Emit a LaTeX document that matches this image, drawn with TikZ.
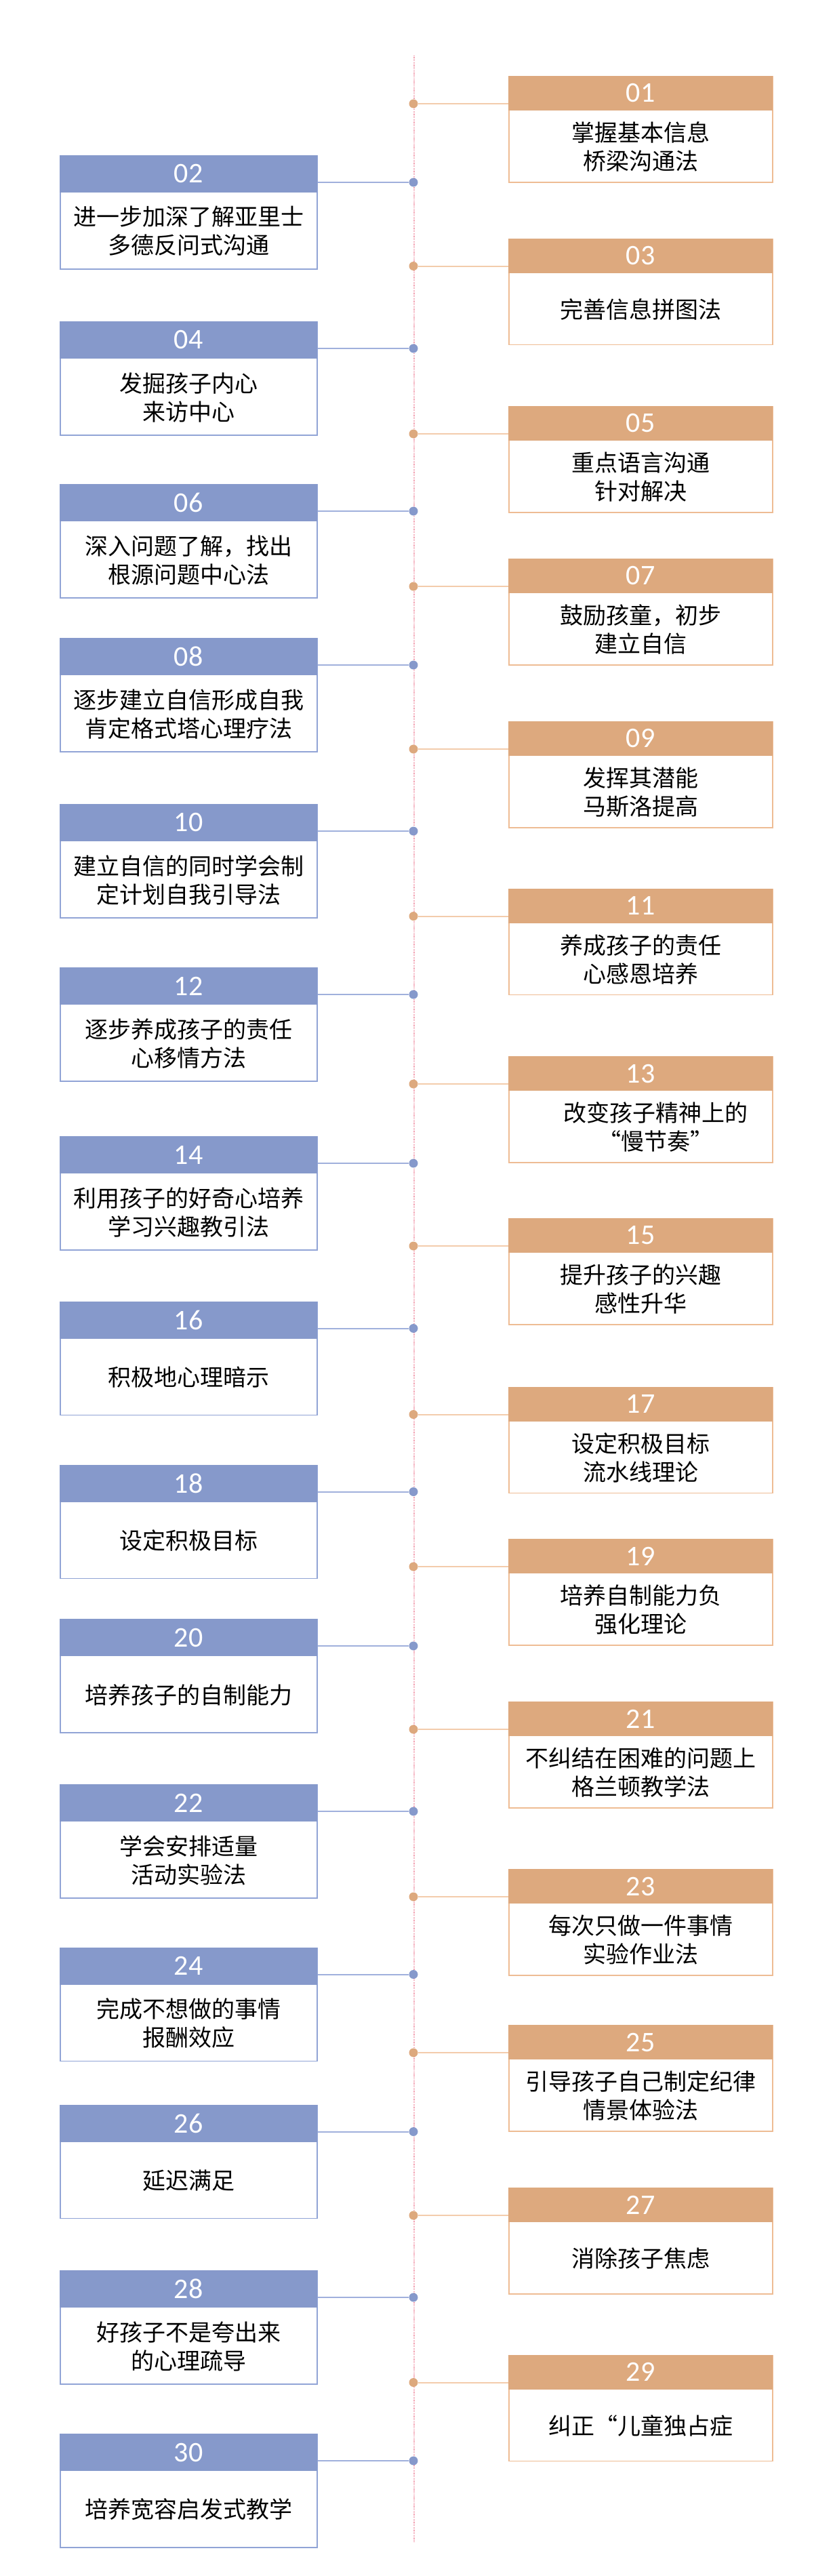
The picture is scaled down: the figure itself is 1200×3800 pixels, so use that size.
\documentclass[tikz,border=0pt]{standalone}
\usepackage{fontspec}
\setmainfont{Carlito}
\newfontfamily\cjkfont{Noto Sans CJK SC}
\usetikzlibrary{positioning}
\definecolor{orangehead}{RGB}{221,169,126}
\definecolor{orangeedge}{RGB}{238,188,148}
\definecolor{orangelink}{RGB}{243,204,172}
\definecolor{bluehead}{RGB}{134,153,203}
\definecolor{blueedge}{RGB}{145,164,214}
\definecolor{bluelink}{RGB}{160,176,220}
\definecolor{pinkline}{RGB}{242,158,175}
\tikzstyle{rbox}=[draw=orangeedge,fill=white,line width=1.6pt,minimum width=389pt,minimum height=156pt,inner sep=0pt,anchor=north west]
\tikzstyle{lbox}=[draw=blueedge,fill=white,line width=1.6pt,minimum width=379pt,minimum height=167pt,inner sep=0pt,anchor=north west]
\tikzstyle{rhead}=[draw=orangehead,fill=orangehead,line width=1pt,minimum width=389pt,minimum height=50pt,inner sep=0pt,anchor=north west,text=white,font=\fontsize{42pt}{42pt}\selectfont]
\tikzstyle{lhead}=[draw=bluehead,fill=bluehead,line width=1pt,minimum width=379pt,minimum height=54pt,inner sep=0pt,anchor=north west,text=white,font=\fontsize{42pt}{42pt}\selectfont]
\tikzstyle{btext}=[align=center,inner sep=0pt,font=\cjkfont\fontsize{34pt}{42pt}\selectfont]
\tikzstyle{rdot}=[circle,fill=orangehead,minimum size=13pt,inner sep=0pt]
\tikzstyle{ldot}=[circle,fill=bluehead,minimum size=13pt,inner sep=0pt]
\tikzstyle{rlink}=[draw=orangelink,line width=2pt]
\tikzstyle{llink}=[draw=bluelink,line width=2pt]
\tikzstyle{midline}=[draw=pinkline,line width=1.2pt,dash pattern=on 1.2pt off 1.2pt]

\begin{document}
\begin{tikzpicture}[x=1pt,y=-1pt]
    \useasboundingbox[fill=white] (0,0) rectangle (1200,3800);

    % time line
    \coordinate (linetop) at (611,82);
    \coordinate (linebottom) at (611,3750);
    \path[midline] (linetop) -- (linebottom);

    % right side, orange
    \foreach \n/\y/\dx/\txt in {01/112/0/{掌握基本信息\\桥梁沟通法}, 03/351.5/0/{完善信息拼图法},
        05/599/0/{重点语言沟通\\针对解决}, 07/824/0/{鼓励孩童，初步\\建立自信},
        09/1064/0/{发挥其潜能\\马斯洛提高}, 11/1310.5/0/{养成孩子的责任\\心感恩培养},
        13/1558/22/{改变孩子精神上的\\“慢节奏”}, 15/1797/0/{提升孩子的兴趣\\感性升华},
        17/2045.5/0/{设定积极目标\\流水线理论}, 19/2270/0/{培养自制能力负\\强化理论},
        21/2510/0/{不纠结在困难的问题上\\格兰顿教学法}, 23/2757/0/{每次只做一件事情\\实验作业法},
        25/2987/0/{引导孩子自己制定纪律\\情景体验法}, 27/3227/0/{消除孩子焦虑},
        29/3473.5/0/{纠正“儿童独占症}}
    {
        \node[rbox] (box\n) at (750,\y) {};
        \node[rhead] (head\n) at (box\n.north west) {\n};
        \node[btext] (txt\n) at ([xshift=\dx pt,yshift=53pt]box\n.south) {\txt};
        \node[rdot] (dot\n) at (610,\y+41) {};
        \path[rlink] (dot\n) -- (dot\n -| box\n.west);
    }

    % left side, blue
    \foreach \n/\y/\txt in {02/229/{进一步加深了解亚里士\\多德反问式沟通}, 04/474/{发掘孩子内心\\来访中心},
        06/714/{深入问题了解，找出\\根源问题中心法}, 08/941/{逐步建立自信形成自我\\肯定格式塔心理疗法},
        10/1186/{建立自信的同时学会制\\定计划自我引导法}, 12/1427/{逐步养成孩子的责任\\心移情方法},
        14/1676/{利用孩子的好奇心培养\\学习兴趣教引法}, 16/1919.5/{积极地心理暗示},
        18/2160.5/{设定积极目标}, 20/2388/{培养孩子的自制能力},
        22/2632/{学会安排适量\\活动实验法}, 24/2872.5/{完成不想做的事情\\报酬效应},
        26/3104.5/{延迟满足}, 28/3349/{好孩子不是夸出来\\的心理疏导},
        30/3590/{培养宽容启发式教学}}
    {
        \node[lbox] (box\n) at (88,\y) {};
        \node[lhead] (head\n) at (box\n.north west) {\n};
        \node[btext] (txt\n) at ([yshift=56.5pt]box\n.south) {\txt};
        \node[ldot] (dot\n) at (610,\y+40) {};
        \path[llink] (dot\n) -- (dot\n -| box\n.east);
    }

\end{tikzpicture}
\end{document}
